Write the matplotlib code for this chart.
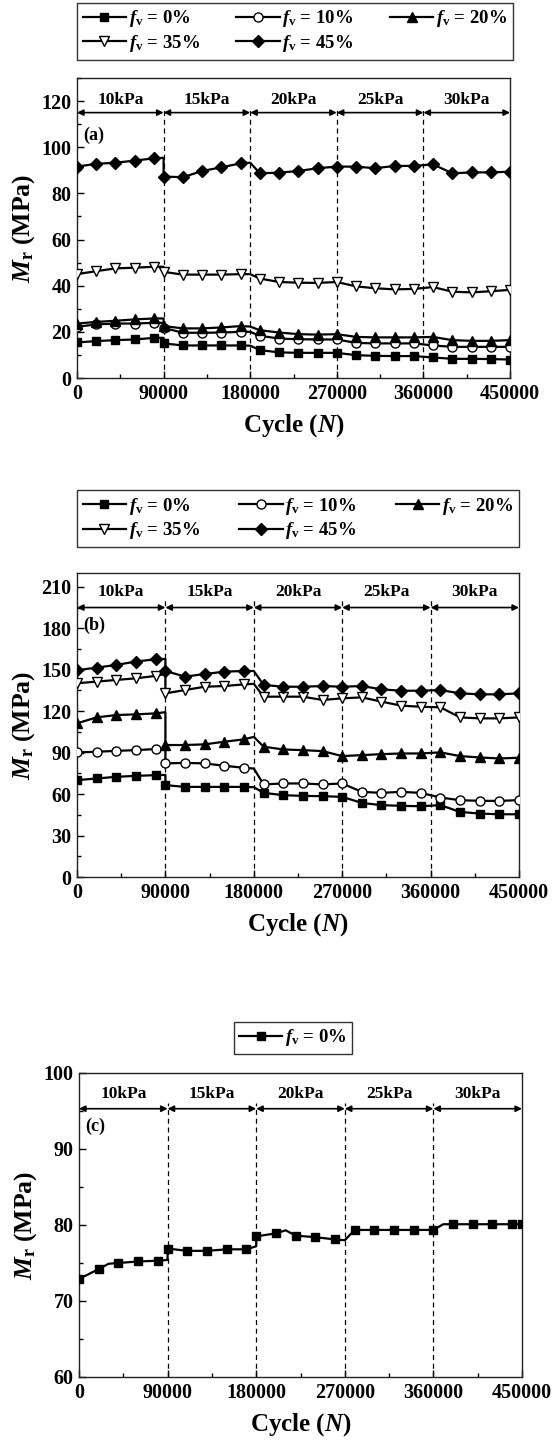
import matplotlib
matplotlib.use('Agg')
import matplotlib.pyplot as plt
from matplotlib.ticker import MultipleLocator, StrMethodFormatter

plt.rcParams.update({
    'font.family': 'Liberation Serif',
    'font.weight': 'bold',
    'mathtext.fontset': 'custom',
    'mathtext.rm': 'Liberation Serif:bold',
    'mathtext.it': 'Liberation Serif:bold:italic',
    'mathtext.bf': 'Liberation Serif:bold',
})

# ---------------- data ----------------
stage_labels = ['10kPa', '15kPa', '20kPa', '25kPa', '30kPa']
stage_bounds = [0, 90000, 180000, 270000, 360000, 450000]
series_labels = ['0%', '10%', '20%', '35%', '45%']

# panels (a) and (b): cycle positions (90000 listed twice for the step at the stage change)
x_ab = [0, 20000, 40000, 60000, 80000, 90000, 90000, 110000, 130000, 150000, 170000, 180000,
        190000, 210000, 230000, 250000, 270000, 290000, 310000, 330000, 350000, 370000,
        390000, 410000, 430000, 450000]
marked_ab = [0, 1, 2, 3, 4, 6, 7, 8, 9, 10, 12, 13, 14, 15, 16, 17, 18, 19, 20, 21, 22, 23, 24, 25]

a_0 = [15.4, 16.0, 16.4, 16.7, 17.4, 17.4, 15.0, 14.1, 14.1, 14.1, 14.1, 14.0, 12.1, 11.1, 10.9,
       10.9, 10.9, 9.9, 9.6, 9.5, 9.5, 8.9, 8.3, 8.3, 8.2, 8.0]
a_10 = [22.2, 23.2, 23.6, 23.6, 23.9, 23.9, 21.7, 19.6, 19.6, 19.7, 20.0, 20.0, 18.3, 17.1, 16.8,
        16.7, 16.7, 15.2, 15.0, 15.0, 15.0, 14.1, 13.5, 13.5, 13.5, 13.5]
a_20 = [23.6, 24.3, 24.8, 25.4, 25.8, 25.8, 22.5, 21.5, 21.5, 21.9, 22.5, 22.3, 20.7, 19.7, 19.0,
        18.8, 19.0, 17.8, 17.6, 17.6, 17.6, 17.8, 16.4, 16.1, 16.1, 16.4]
a_35 = [45.0, 46.3, 47.5, 47.8, 48.2, 48.2, 46.0, 44.8, 44.8, 44.8, 45.0, 45.0, 43.1, 41.6, 41.3,
        41.2, 41.6, 39.7, 38.9, 38.4, 38.6, 39.4, 37.4, 37.1, 37.6, 38.2]
a_45 = [91.6, 92.8, 93.3, 94.2, 95.2, 95.4, 87.3, 87.0, 89.7, 91.3, 93.0, 93.3, 88.7, 89.0, 89.7,
        90.9, 91.6, 91.6, 90.9, 91.9, 91.9, 92.6, 88.7, 89.1, 89.1, 89.4]

b_0 = [70.1, 71.3, 72.5, 73.2, 73.7, 73.9, 66.5, 65.2, 65.2, 65.2, 65.2, 65.0, 60.9, 59.2, 58.7,
       58.5, 58.0, 53.6, 52.0, 51.5, 51.2, 52.0, 47.1, 45.9, 45.4, 45.4]
b_10 = [90.2, 90.6, 91.3, 91.8, 92.6, 93.0, 82.2, 82.6, 82.2, 80.5, 79.0, 78.5, 67.0, 67.7, 67.7,
        67.0, 67.7, 61.6, 60.9, 61.6, 60.9, 57.5, 55.6, 55.1, 55.1, 55.6]
b_20 = [111.2, 115.5, 117.2, 117.7, 118.4, 119.3, 95.5, 95.5, 96.0, 97.9, 99.6, 101.4, 94.3, 92.3,
        91.8, 91.1, 87.5, 88.2, 88.9, 89.4, 89.4, 90.2, 87.5, 86.5, 85.8, 86.3]
b_35 = [140.2, 141.4, 142.6, 143.8, 145.5, 147.0, 132.9, 135.3, 137.7, 138.2, 139.4, 139.8, 130.5,
        130.5, 130.5, 128.1, 129.3, 130.0, 126.9, 124.0, 123.2, 122.8, 115.5, 114.8, 114.8, 115.5]
b_45 = [149.7, 151.5, 153.5, 155.9, 157.6, 157.8, 149.1, 145.0, 146.9, 148.6, 149.1, 149.1, 139.0,
        137.7, 137.7, 138.2, 137.7, 138.2, 135.8, 134.8, 134.8, 135.3, 132.9, 132.2, 132.2, 132.9]

# panel (c)
x_c = [0, 20000, 30000, 40000, 60000, 80000, 90000, 90000, 110000, 130000, 150000, 170000, 180000,
       180000, 200000, 210000, 220000, 240000, 260000, 270000, 280000, 300000, 320000, 340000,
       360000, 370000, 380000, 400000, 420000, 440000, 450000]
marked_c = [0, 1, 3, 4, 5, 7, 8, 9, 10, 11, 13, 14, 16, 17, 18, 20, 21, 22, 23, 24, 26, 27, 28, 29, 30]
c_0 = [72.9, 74.2, 74.9, 75.0, 75.2, 75.3, 75.4, 76.9, 76.6, 76.6, 76.8, 76.8, 77.2, 78.5, 78.9,
       79.3, 78.6, 78.4, 78.1, 78.0, 79.35, 79.35, 79.35, 79.35, 79.35, 80.1, 80.1, 80.1, 80.1,
       80.1, 80.1]

# ---------------- styling ----------------
markers = ['s', 'o', '^', 'v', 'D']
faces = ['black', 'white', 'black', 'white', 'black']
msizes = [6, 6.5, 7, 7.5, 6]

fig = plt.figure(figsize=(5.52, 14.43), dpi=100)


def draw_panel(rect, xs, ys_list, marked, ylim, ymajor, yminor, arrow_y, text_y, dash_top,
               tag, tag_y, n_series):
    ax = fig.add_axes(rect)
    handles = []
    for i in range(n_series):
        h, = ax.plot(xs, ys_list[i], color='black', lw=1.6, marker=markers[i], ms=msizes[i],
                     mfc=faces[i], mec='black', mew=1.0, markevery=marked,
                     label=r'$f_\mathrm{v}$ = ' + series_labels[i], zorder=3)
        handles.append(h)
    ax.set_xlim(stage_bounds[0], stage_bounds[-1])
    ax.set_ylim(*ylim)
    ax.xaxis.set_major_locator(MultipleLocator(90000))
    ax.xaxis.set_minor_locator(MultipleLocator(45000))
    ax.yaxis.set_major_locator(MultipleLocator(ymajor))
    ax.yaxis.set_minor_locator(MultipleLocator(yminor))
    ax.xaxis.set_major_formatter(StrMethodFormatter('{x:.0f}'))
    ax.yaxis.set_major_formatter(StrMethodFormatter('{x:.0f}'))
    ax.tick_params(which='both', direction='in', top=False, right=False, width=1,
                   labelsize=14.5, pad=4)
    ax.tick_params(which='major', length=5)
    ax.tick_params(which='minor', length=3)
    for sp in ax.spines.values():
        sp.set_linewidth(1.0)
        sp.set_color('#222222')
    ax.vlines(stage_bounds[1:-1], ylim[0], dash_top, colors='black', lw=0.9,
              linestyles=(0, (4, 3)), zorder=2)
    for j in range(len(stage_labels)):
        x0, x1 = stage_bounds[j], stage_bounds[j + 1]
        ax.annotate('', xy=(x1, arrow_y), xytext=(x0, arrow_y),
                    arrowprops=dict(arrowstyle='<|-|>', color='black', lw=1.2,
                                    shrinkA=0, shrinkB=0, mutation_scale=9))
        ax.text((x0 + x1) / 2, text_y, stage_labels[j], ha='center', va='center',
                fontsize=12.5, fontweight='bold')
    ax.text(6000, tag_y, tag, ha='left', va='center', fontsize=13, fontweight='bold')
    ax.set_xlabel(r'Cycle ($N$)', fontsize=18, fontweight='bold', labelpad=6)
    ax.set_ylabel(r'$M_\mathrm{r}$ (MPa)', fontsize=18.5, fontweight='bold', labelpad=3)
    return ax, handles


W, H = 552.0, 1443.0

ax_a, h_a = draw_panel([77 / W, 1 - 378 / H, 433 / W, 300 / H], x_ab,
                       [a_0, a_10, a_20, a_35, a_45], marked_ab, (0, 130), 20, 10,
                       115, 120.5, 117.5, '(a)', 105, 5)
ax_b, h_b = draw_panel([77 / W, 1 - 877 / H, 442 / W, 304 / H], x_ab,
                       [b_0, b_10, b_20, b_35, b_45], marked_ab, (0, 220), 30, 15,
                       195, 206, 201, '(b)', 182, 5)
ax_c, h_c = draw_panel([79 / W, 1 - 1377 / H, 443 / W, 304 / H], x_c,
                       [c_0], marked_c, (60, 100), 10, 5,
                       95.3, 97.2, 96.1, '(c)', 93, 1)

# legend filled column by column: reorder so rows read 0%,10%,20% / 35%,45%
order = [0, 3, 1, 4, 2]
leg_kw = dict(frameon=True, fancybox=False, edgecolor='black', fontsize=13.5,
              handlelength=2.3, handletextpad=0.15, borderpad=0.3, labelspacing=0.2,
              borderaxespad=0)
la = fig.legend(handles=[h_a[k] for k in order], ncol=3, loc='center', mode='expand',
                bbox_to_anchor=(77 / W, 1 - 57 / H, 436 / W, 52 / H), **leg_kw)
lb = fig.legend(handles=[h_b[k] for k in order], ncol=3, loc='center', mode='expand',
                bbox_to_anchor=(77 / W, 1 - 545 / H, 442 / W, 53 / H), **leg_kw)
lc = fig.legend(handles=h_c, ncol=1, loc='center',
                bbox_to_anchor=(293 / W, 1 - 1038 / H), **leg_kw)
for lg in (la, lb, lc):
    lg.get_frame().set_linewidth(1.0)

fig.savefig('out.png', dpi=100)
